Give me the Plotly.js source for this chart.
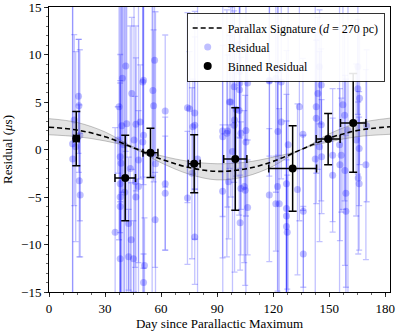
<!DOCTYPE html>
<html>
<head>
<meta charset="utf-8">
<script src="https://cdn.plot.ly/plotly-3.0.1.min.js"></script>
<style>
  body { margin: 0; background: #fff; }
  #chart { width: 415px; height: 332px; }
</style>
</head>
<body>
<div id="chart"></div>
<script>
// individual residuals: day, value, error
var resX = [12.6, 12.7, 13.5, 15.8, 16.0, 16.2, 16.7, 14.3, 16.5,
  35.4, 36.8, 38.1, 38.1, 38.1, 38.6, 38.1, 38.1, 39.3, 39.0, 40.0, 41.1, 41.6, 42.6, 42.6, 44.3, 45.2,
  46.5, 46.5, 46.1, 47.9, 47.9, 48.8, 50.6, 50.2, 50.2, 50.6, 51.1, 50.6, 43.5, 44.0, 40.5, 37.5, 45.5,
  56.5, 55.6, 56.0, 56.8, 55.2, 57.0,
  62.2, 62.2, 62.2,
  74.1, 75.2, 74.1, 78.0, 78.0, 77.0, 78.0, 79.5, 76.5,
  92.9, 92.9, 93.0, 95.5, 95.2, 96.1, 96.6, 97.3, 98.2, 99.1, 99.1, 99.3, 100.2, 102.0, 102.1, 102.1,
  101.8, 102.7, 102.7, 102.3, 104.5, 105.0, 105.4, 105.4, 106.3, 106.3,
  117.9, 117.9, 118.0, 121.4, 121.4, 122.5, 122.5, 122.3, 123.2, 124.3, 124.3,
  127.1, 127.1, 127.1, 127.1, 127.5, 128.0, 133.0, 135.9, 136.1, 136.1, 134.0,
  143.9, 145.7, 143.0, 143.0, 145.7, 144.8, 144.8, 145.9, 142.5,
  151.8, 151.8, 155.7, 155.5, 156.4, 157.3, 158.2, 158.4, 158.9, 158.9, 160.0,
  165.3, 166.2, 164.4, 166.0, 165.3, 165.5, 166.0, 169.6, 170.0];
var resY = [0.6, -1.0, 3.1, 5.6, 4.6, -3.3, -4.8, 0.3, 1.5,
  -8.7, 1.0, -6.0, -5.0, -3.6, -1.45, -0.75, -11.5, 7.5, 2.5, 0.5, 8.8, 2.7, -7.8, -11.3, 5.9, -11.5,
  2.65, -5.0, -3.4, -1.1, -3.9, 2.9, 1.5, 0.8, 7.1, 7.3, -12.2, -14.0, -2.0, -9.5, -4.5, 4.5, 1.0,
  9.4, 6.2, 4.6, -7.4, -0.5, -1.5,
  4.05, -3.6, -4.6,
  4.4, 4.3, -5.1, 3.85, 2.55, 2.4, -9.2, -1.0, -2.5,
  1.95, -4.4, 1.35, 1.95, 1.7, -3.4, 5.0, 5.0, -0.2, 6.6, 2.55, 3.1, 4.2, 6.3, 7.0, 8.2,
  4.1, 1.7, -4.1, -7.7, -3.9, -4.3, 2.0, 0.8, 7.0, -6.1,
  7.2, -4.8, 7.3, 7.5, -5.7, 8.4, 1.9, -3.9, -5.7, 7.1, 2.9,
  -3.6, -6.2, -7.0, -8.1, -8.7, 0.5, -4.2, 1.6, -6.5, -11.0, 4.5,
  5.9, 6.8, 4.5, 3.3, 2.6, 0.3, 8.7, -0.75, -1.0,
  -0.6, -2.7, -1.6, 0.5, -0.6, 4.7, 3.6, -2.2, -4.6, -6.5, 2.0,
  6.4, 5.4, 1.0, 0.1, 8.7, -3.0, -3.6, -1.6, 2.5];
var resErr = [18, 20, 9, 6, 7, 8, 6.5, 10, 9,
  11, 3.5, 16, 12, 19, 18, 8, 6, 12, 19, 22, 9, 18, 7, 5, 8, 4,
  7, 18, 9, 17, 8, 6, 14, 20, 10, 11, 5, 3, 15, 6, 21, 14, 16,
  10, 9, 8, 5, 18, 16,
  8, 7, 6,
  10, 6, 7, 8, 12, 5, 5, 18, 9,
  9, 7, 17, 8, 13, 6, 7, 10, 20, 8, 6, 16, 7, 5, 9, 7,
  11, 8, 7, 5, 8, 10, 9, 17, 6, 5,
  10, 7, 8, 12, 5, 9, 17, 11, 10, 8, 6,
  14, 12, 10, 7, 6, 17, 9, 8, 8, 5, 12,
  8, 6, 7, 9, 8, 10, 6, 6, 17,
  7, 6, 8, 16, 6, 11, 9, 10, 12, 8, 20,
  9, 7, 8, 6, 5, 8, 7, 10, 8];

// binned residuals
var binX = [14.6, 40.8, 54.3, 77.7, 99.7, 130.4, 149.4, 162.8];
var binY = [1.15, -3.0, -0.35, -1.5, -1.0, -2.0, 1.1, 2.8];
var binXErr = [1.5, 5.5, 4.0, 3.2, 6.2, 12.8, 6.4, 6.8];
var binYErr = [2.85, 4.5, 2.6, 3.05, 5.4, 4.5, 2.7, 5.2];

// parallax model and its band
var modelX = [0, 15, 30, 45, 60, 75, 90, 105, 120, 135, 150, 165, 182.5];
var modelY = [2.35, 2.05, 1.35, 0.2, -1.0, -1.9, -2.3, -2.05, -1.25, 0.0, 1.2, 2.0, 2.4];
var bandHi = [3.25, 2.85, 1.85, 0.28, -0.65, -1.25, -1.5, -1.35, -0.8, 0.0, 1.65, 2.75, 3.3];
var bandLo = [1.55, 1.35, 0.9, 0.13, -1.4, -2.6, -3.2, -2.85, -1.75, 0.0, 0.8, 1.35, 1.6];

var serif = "'Liberation Serif', 'DejaVu Serif', serif";

var residual = {
  x: resX, y: resY, type: 'scatter', mode: 'markers', name: 'Residual',
  marker: {color: 'rgba(0,0,255,0.25)', size: 7},
  error_y: {type: 'data', array: resErr, color: 'rgba(0,0,255,0.24)', thickness: 1.3, width: 3},
  legendrank: 2
};
var lo = {
  x: modelX, y: bandLo, type: 'scatter', mode: 'lines',
  line: {color: 'rgba(90,90,90,0.45)', width: 0.8, shape: 'spline'},
  showlegend: false, hoverinfo: 'skip'
};
var hi = {
  x: modelX, y: bandHi, type: 'scatter', mode: 'lines', fill: 'tonexty',
  fillcolor: 'rgba(128,128,128,0.22)',
  line: {color: 'rgba(90,90,90,0.45)', width: 0.8, shape: 'spline'},
  showlegend: false, hoverinfo: 'skip'
};
var model = {
  x: modelX, y: modelY, type: 'scatter', mode: 'lines',
  name: 'Parallax Signature (<i>d</i> = 270 pc)',
  line: {color: 'black', width: 1.6, dash: '5px,3px', shape: 'spline'},
  legendrank: 1
};
var binned = {
  x: binX, y: binY, type: 'scatter', mode: 'markers', name: 'Binned Residual',
  marker: {color: 'black', size: 8},
  error_x: {type: 'data', array: binXErr, color: 'black', thickness: 1.5, width: 4},
  error_y: {type: 'data', array: binYErr, color: 'black', thickness: 1.5, width: 4},
  legendrank: 3
};

var layout = {
  width: 415, height: 332,
  margin: {l: 49, r: 25, t: 7, b: 40},
  paper_bgcolor: 'white', plot_bgcolor: 'white',
  font: {family: serif, size: 13, color: 'black'},
  showlegend: true,
  legend: {x: 0.985, y: 0.98, xanchor: 'right', yanchor: 'top', traceorder: 'normal',
    bordercolor: 'black', borderwidth: 0.8, bgcolor: 'rgba(255,255,255,0.9)',
    font: {family: serif, size: 12}, tracegroupgap: 0},
  xaxis: {
    range: [0, 182.5], tickvals: [0, 30, 60, 90, 120, 150, 180],
    ticks: 'outside', ticklen: 4, tickwidth: 0.8, tickcolor: 'black',
    minor: {dtick: 7.5, tick0: 0, ticks: 'outside', ticklen: 2, tickcolor: 'black', tickwidth: 0.6},
    showline: true, linecolor: 'black', linewidth: 1, mirror: true,
    showgrid: false, zeroline: false, ticklabeloverflow: 'allow',
    title: {text: 'Day since Parallactic Maximum', standoff: 4, font: {family: serif, size: 13}}
  },
  yaxis: {
    range: [-15, 15], tickvals: [-15, -10, -5, 0, 5, 10, 15],
    ticktext: ['\u221215', '\u221210', '\u22125', '0', '5', '10', '15'],
    ticks: 'outside', ticklen: 4, tickwidth: 0.8, tickcolor: 'black',
    minor: {dtick: 1, tick0: 0, ticks: 'outside', ticklen: 2, tickcolor: 'black', tickwidth: 0.6},
    showline: true, linecolor: 'black', linewidth: 1, mirror: true,
    showgrid: false, zeroline: false, ticklabeloverflow: 'allow',
    title: {text: 'Residual (<i>\u03bc</i>s)', standoff: 6, font: {family: serif, size: 13}}
  }
};

Plotly.newPlot('chart', [residual, lo, hi, model, binned], layout, {displayModeBar: false, staticPlot: true});
</script>
</body>
</html>
